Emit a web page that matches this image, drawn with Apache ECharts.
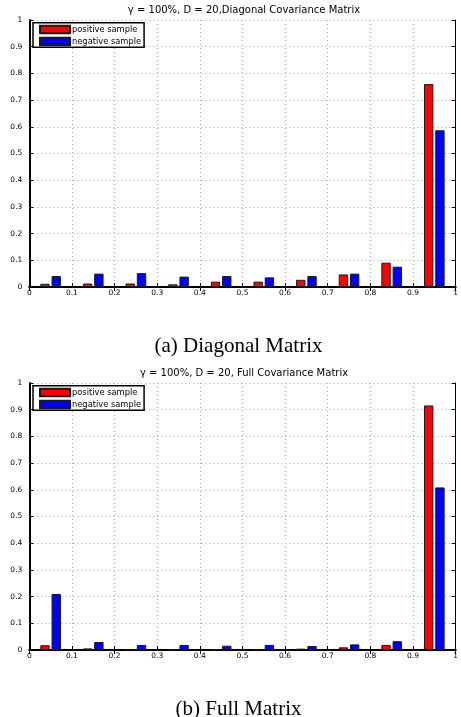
<!DOCTYPE html>
<html>
<head>
<meta charset="utf-8">
<script src="https://cdn.jsdelivr.net/npm/echarts@6/dist/echarts.min.js"></script>
<style>
html,body{margin:0;padding:0;background:#fff;}
#chart{width:461px;height:717px;}
</style>
</head>
<body>
<div id="chart"></div>
<script>
// ---- data ----
const bins = ['0-0.1','0.1-0.2','0.2-0.3','0.3-0.4','0.4-0.5','0.5-0.6','0.6-0.7','0.7-0.8','0.8-0.9','0.9-1'];
const diagPositive = [0.012, 0.013, 0.013, 0.010, 0.020, 0.020, 0.027, 0.047, 0.091, 0.760];
const diagNegative = [0.041, 0.050, 0.052, 0.039, 0.041, 0.036, 0.041, 0.050, 0.076, 0.587];
const fullPositive = [0.018, 0.006, 0.003, 0.003, 0.003, 0.003, 0.005, 0.010, 0.019, 0.916];
const fullNegative = [0.210, 0.030, 0.019, 0.019, 0.016, 0.019, 0.015, 0.021, 0.033, 0.609];
const seriesNames = ['positive sample', 'negative sample'];
const titles = ['\u03b3 = 100%, D = 20,Diagonal Covariance Matrix', '\u03b3 = 100%, D = 20, Full Covariance Matrix'];
const captions = ['(a) Diagonal Matrix', '(b) Full Matrix'];

const SANS = 'DejaVu Sans';
const gridTops = [20, 383];
const gridLeft = 29.3, gridW = 429.4, gridH = 267;

const chart = echarts.init(document.getElementById('chart'));
const frameLine = {show: true, lineStyle: {color: '#000', width: 1.5}};
const dotted = {show: true, lineStyle: {color: '#a8a8a8', width: 1, type: [1, 3]}};

const grids = [], xAxes = [], yAxes = [], series = [], legends = [], graphics = [];
const dataSets = [[diagPositive, diagNegative], [fullPositive, fullNegative]];

gridTops.forEach((top, g) => {
  grids.push({left: gridLeft, top: top, width: gridW, height: gridH, containLabel: false});
  // bottom value axis: labels, ticks, vertical grid lines
  xAxes.push({
    type: 'value', gridIndex: g, position: 'bottom', min: 0, max: 1, interval: 0.1,
    axisLine: {show: true, lineStyle: {color: '#000', width: 2}},
    axisTick: {show: true, inside: true, length: 4, lineStyle: {color: '#000', width: 1}},
    axisLabel: {show: true, margin: 2, color: '#000', fontFamily: SANS, fontSize: 7.5},
    splitLine: dotted
  });
  // top category axis: bins for bars, ticks at bin boundaries
  xAxes.push({
    type: 'category', gridIndex: g, position: 'top', data: bins, boundaryGap: true,
    axisLine: frameLine,
    axisTick: {show: true, inside: true, length: 4, alignWithLabel: false, lineStyle: {color: '#000', width: 1}},
    axisLabel: {show: false},
    splitLine: {show: false}
  });
  yAxes.push({
    type: 'value', gridIndex: g, position: 'left', min: 0, max: 1, interval: 0.1,
    axisLine: {show: true, lineStyle: {color: '#000', width: 2}},
    axisTick: {show: true, inside: true, length: 4, lineStyle: {color: '#000', width: 1}},
    axisLabel: {show: true, margin: 7, color: '#000', fontFamily: SANS, fontSize: 7.5},
    splitLine: dotted
  });
  yAxes.push({
    type: 'value', gridIndex: g, position: 'right', min: 0, max: 1, interval: 0.1,
    axisLine: {show: true, lineStyle: {color: '#000', width: 1}},
    axisTick: {show: true, inside: true, length: 4, lineStyle: {color: '#000', width: 1}},
    axisLabel: {show: false},
    splitLine: {show: false}
  });
  const colors = ['#ff0000', '#0000ff'];
  dataSets[g].forEach((vals, s) => {
    series.push({
      type: 'bar', name: seriesNames[s], xAxisIndex: g * 2 + 1, yAxisIndex: g * 2,
      data: vals, barWidth: '22%', barGap: '20%',
      itemStyle: {color: colors[s], borderColor: '#1a1a1a', borderWidth: 1},
      emphasis: {disabled: true},
      animation: false
    });
  });
  legends.push({
    orient: 'vertical', left: 33, top: top + 2.7,
    data: seriesNames, icon: 'rect',
    itemWidth: 30, itemHeight: 7.5, itemGap: 2.5,
    padding: [2, 3, 1, 6],
    backgroundColor: '#fff', borderColor: '#000', borderWidth: 1.5,
    textStyle: {fontFamily: SANS, fontSize: 8.3, color: '#000', padding: [0, 0, 0, -3]},
    selectedMode: false
  });
  graphics.push({
    type: 'text', x: gridLeft + gridW / 2, y: top - 10, z: 10,
    style: {text: titles[g], fill: '#000', font: '10px "' + SANS + '"', align: 'center', verticalAlign: 'middle'}
  });
  graphics.push({
    type: 'text', x: 238.5, y: top + 326, z: 10,
    style: {text: captions[g], fill: '#000', font: '21px "Liberation Serif"', align: 'center', verticalAlign: 'middle'}
  });
});

chart.setOption({
  animation: false,
  backgroundColor: '#fff',
  grid: grids,
  xAxis: xAxes,
  yAxis: yAxes,
  legend: legends,
  series: series,
  graphic: graphics
});
</script>
</body>
</html>
